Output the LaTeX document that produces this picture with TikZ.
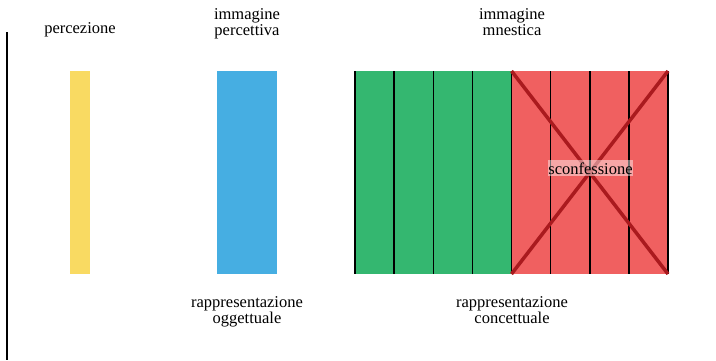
\documentclass[tikz,border=0pt]{standalone}
\usepackage{fontspec}
\setmainfont{Liberation Serif}

\definecolor{yel}{RGB}{249,218,98}
\definecolor{blu}{RGB}{70,174,226}
\definecolor{grn}{RGB}{52,183,112}
\definecolor{rd}{RGB}{240,96,96}
\definecolor{xrd}{RGB}{170,26,30}

\begin{document}
\begin{tikzpicture}[x=1pt,y=-1pt,
    lab/.style={align=center,inner sep=0pt,anchor=base,
      font=\fontsize{16.5}{15.5}\selectfont}]
\useasboundingbox (0,0) rectangle (716,360);

      % axis
      \path (7,32) coordinate (a1) (7,360) coordinate (a2);
      \draw[line width=1.5pt] (a1) to (a2);

      % yellow bar
      \path (70,71) coordinate (y1) (90,274) coordinate (y2);
      \fill[yel] (y1) rectangle (y2);

      % blue bar
      \path (217,71) coordinate (c1) (277,274) coordinate (c2);
      \fill[blu] (c1) rectangle (c2);

      % stripes
      \foreach \j in {0,...,8}
      { \path (355+39.125*\j,71) coordinate (t\j); \path (355+39.125*\j,274) coordinate (b\j); }
      \fill[grn] (t0) rectangle (b4);
      \fill[rd] (t4) rectangle (b8);
      \foreach \j in {0,...,8}
      { \draw[line width=1.5pt] (t\j) to (b\j); }
      \draw[xrd,line width=3.5pt] (t4) to (b8) (t8) to (b4);

      % labels (base = last line)
      \node[lab] (perc) at (80,33) {percezione};
      \node[lab] (imp) at (247,35) {immagine\\percettiva};
      \node[lab] (imm) at (512,35) {immagine\\mnestica};
      \node[lab] (rog) at (247,323) {rappresentazione\\oggettuale};
      \node[lab] (rco) at (512,323) {rappresentazione\\concettuale};
      \node[lab,fill=white,fill opacity=.45,text opacity=1,inner ysep=2pt] (sc) at (590.5,174) {sconfessione};
    \end{tikzpicture}
\end{document}
